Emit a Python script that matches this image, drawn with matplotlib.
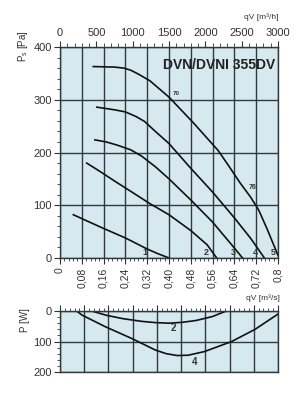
import numpy as np
import matplotlib
matplotlib.use("Agg")
import matplotlib.pyplot as plt
from matplotlib.ticker import FixedLocator, MultipleLocator

plt.rcParams['font.family'] = ['Liberation Sans', 'DejaVu Sans']

# flow axis ticks
q_ticks = [0, 0.08, 0.16, 0.24, 0.32, 0.40, 0.48, 0.56, 0.64, 0.72, 0.80]
q_labels = ['0', '0,08', '0,16', '0,24', '0,32', '0,40', '0,48', '0,56', '0,64', '0,72', '0,8']
qh_ticks = [0, 500, 1000, 1500, 2000, 2500, 3000]

# pressure curves (m3/s, Pa), speed steps 1..5
q1 = [0.049, 0.10, 0.16, 0.24, 0.32, 0.36, 0.40]
p1 = [82, 70, 56, 38, 17, 8, 0]
q2 = [0.098, 0.15, 0.20, 0.27, 0.33, 0.40, 0.48, 0.54, 0.575]
p2 = [180, 163, 146, 123, 103, 82, 52, 25, 0]
q3 = [0.128, 0.17, 0.21, 0.26, 0.30, 0.35, 0.40, 0.48, 0.56, 0.63, 0.67]
p3 = [224, 220, 214, 205, 193, 173, 150, 110, 68, 25, 0]
q4 = [0.135, 0.20, 0.24, 0.28, 0.31, 0.35, 0.40, 0.48, 0.56, 0.64, 0.70, 0.75]
p4 = [286, 281, 277, 268, 259, 240, 217, 170, 125, 76, 37, 0]
q5 = [0.122, 0.20, 0.235, 0.26, 0.29, 0.33, 0.40, 0.49, 0.58, 0.62, 0.66, 0.70, 0.73, 0.76, 0.80]
p5 = [363, 362, 360, 356, 348, 336, 305, 256, 204, 174, 143, 115, 90, 55, 5]
curve_names = ['1', '2', '3', '4', '5']
name_q = [0.313, 0.538, 0.636, 0.717, 0.784]

# power curves (m3/s, W)
qp2 = [0.116, 0.17, 0.23, 0.30, 0.35, 0.40, 0.45, 0.50, 0.56, 0.61]
pp2 = [0, 14, 25, 34, 38, 40, 37, 31, 18, 0]
qp4 = [0.061, 0.08, 0.165, 0.263, 0.35, 0.39, 0.43, 0.47, 0.53, 0.63, 0.716, 0.80]
pp4 = [0, 13, 51, 90, 128, 140, 146, 145, 133, 100, 60, 10]

bg = '#d6e9ef'
grid_c = '#2e3a3e'
txt_c = '#333333'

fig = plt.figure(figsize=(3.0, 3.98), dpi=100)

# ---- main pressure chart ----
ax = fig.add_axes([0.2, 0.3518, 0.7267, 0.530])
ax.set_facecolor(bg)
for q, p in [(q1, p1), (q2, p2), (q3, p3), (q4, p4), (q5, p5)]:
    ax.plot(q, p, color='#111111', lw=1.2, solid_joinstyle='round')
for name, xq in zip(curve_names, name_q):
    ax.text(xq, 10, name, fontsize=6.5, fontweight='bold', color=txt_c,
            ha='center', va='center')
ax.text(0.425, 312, '70', fontsize=4.5, fontweight='bold', color=txt_c,
        ha='center', va='center')
ax.text(0.706, 133, '76', fontsize=5, fontweight='bold', color=txt_c,
        ha='center', va='center')
ax.text(0.583, 366, 'DVN/DVNI 355DV', fontsize=10, fontweight='bold',
        color='#222222', ha='center', va='center')

ax.set_xlim(0, 0.8)
ax.set_ylim(0, 400)
ax.xaxis.set_major_locator(FixedLocator(q_ticks))
ax.set_xticklabels(q_labels, rotation=90)
ax.xaxis.set_minor_locator(MultipleLocator(0.016))
ax.yaxis.set_major_locator(MultipleLocator(100))
ax.yaxis.set_minor_locator(MultipleLocator(20))
ax.grid(True, which='major', color=grid_c, lw=1.0)
ax.tick_params(which='major', direction='out', length=4.5, width=0.8,
               color=txt_c, labelcolor=txt_c, labelsize=8, pad=1.5)
ax.tick_params(axis='x', which='major', labelsize=7.5, pad=2.5)
ax.tick_params(which='minor', direction='out', length=2.5, width=0.6, color=txt_c)
for s in ax.spines.values():
    s.set_color(grid_c)
    s.set_linewidth(1.0)

axt = ax.twiny()
axt.set_xlim(0, 3000)
axt.xaxis.set_major_locator(FixedLocator(qh_ticks))
axt.xaxis.set_minor_locator(MultipleLocator(100))
axt.tick_params(which='major', direction='out', length=4.5, width=0.8,
                color=txt_c, labelcolor=txt_c, labelsize=8, pad=2)
axt.tick_params(which='minor', direction='out', length=3, width=0.6, color=txt_c)
for s in axt.spines.values():
    s.set_visible(False)

fig.text(0.927, 0.958, 'qV [m³/h]', fontsize=6, color=txt_c, ha='right', va='center')
fig.text(0.933, 0.251, 'qV [m³/s]', fontsize=6, color=txt_c, ha='right', va='center')
fig.text(0.077, 0.885, 'P$_\\mathregular{s}$ [Pa]', fontsize=7, color=txt_c,
         rotation=90, ha='center', va='center')

# ---- power chart ----
axp = fig.add_axes([0.2, 0.0653, 0.7267, 0.1533])
axp.set_facecolor(bg)
axp.plot(qp2, pp2, color='#111111', lw=1.2, solid_joinstyle='round')
axp.plot(qp4, pp4, color='#111111', lw=1.2, solid_joinstyle='round')
axp.text(0.416, 57, '2', fontsize=7, fontweight='bold', color=txt_c, ha='center', va='center')
axp.text(0.495, 166, '4', fontsize=7, fontweight='bold', color=txt_c, ha='center', va='center')
axp.set_xlim(0, 0.8)
axp.set_ylim(200, 0)
axp.xaxis.set_major_locator(FixedLocator(np.linspace(0, 0.8, 10)))
axp.xaxis.set_minor_locator(FixedLocator(np.linspace(0, 0.8, 46)))
axp.xaxis.tick_top()
axp.tick_params(axis='x', which='both', labeltop=False, labelbottom=False)
axp.yaxis.set_major_locator(MultipleLocator(100))
axp.yaxis.set_minor_locator(MultipleLocator(20))
axp.grid(True, which='major', color=grid_c, lw=1.0)
axp.tick_params(which='major', direction='out', length=4.5, width=0.8,
                color=txt_c, labelcolor=txt_c, labelsize=8, pad=1.5)
axp.tick_params(which='minor', direction='out', length=2.5, width=0.6, color=txt_c)
for s in axp.spines.values():
    s.set_color(grid_c)
    s.set_linewidth(1.0)
fig.text(0.083, 0.196, 'P [W]', fontsize=7, color=txt_c, rotation=90,
         ha='center', va='center')

fig.savefig('out.png', dpi=100, facecolor='white')
